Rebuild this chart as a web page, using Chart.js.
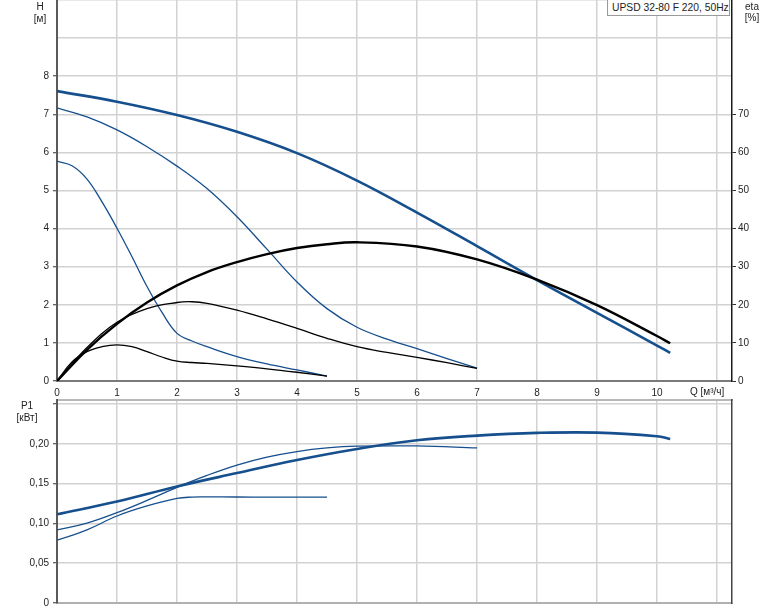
<!DOCTYPE html>
<html>
<head>
<meta charset="utf-8">
<script src="https://cdn.jsdelivr.net/npm/chart.js@4.4.1/dist/chart.umd.min.js"></script>
<style>
  html, body { margin: 0; padding: 0; background: #fff; }
  #wrap { position: relative; width: 774px; height: 611px; overflow: hidden; background: #fff;
          font-family: 'Liberation Sans', Arial, sans-serif; font-size: 10px; color: #222; }
  canvas { position: absolute; left: 0; }
  .lbl { position: absolute; line-height: 12px; white-space: nowrap; text-align: center; }
  #legend { position: absolute; left: 607px; top: -1px; width: 123px; height: 17px; box-sizing: border-box;
            border: 1px solid #9a9a9a; background: #fff; line-height: 16px; padding-left: 4px; white-space: nowrap;
            font-size: 10.3px; }
</style>
</head>
<body>
<div id="wrap">
  <canvas id="top" width="774" height="400" style="top:0"></canvas>
  <canvas id="bot" width="774" height="221" style="top:390px"></canvas>
  <div class="lbl" style="left:25px;top:1px;width:30px">H</div>
  <div class="lbl" style="left:25px;top:13px;width:30px">[м]</div>
  <div class="lbl" style="left:737px;top:1px;width:30px">eta</div>
  <div class="lbl" style="left:737px;top:12px;width:30px">[%]</div>
  <div class="lbl" style="left:12px;top:400px;width:30px">P1</div>
  <div class="lbl" style="left:7px;top:412px;width:40px">[кВт]</div>
  <div class="lbl" style="left:690px;top:386px;text-align:left">Q [м³/ч]</div>
  <div id="legend">UPSD 32-80 F 220, 50Hz</div>
</div>
<script>
// ---------- data ----------
// Q-H, maximum speed
const qMax = [0, 1, 2, 3, 4, 5, 6, 7, 8, 9, 10, 10.22];
const hMax = [7.61, 7.33, 6.98, 6.54, 5.98, 5.26, 4.42, 3.54, 2.65, 1.79, 0.93, 0.74];
// efficiency, maximum speed
const qEtaMax = [0, 0.5, 1, 1.5, 2, 2.5, 3, 3.5, 4, 4.5, 5, 6, 7, 8, 9, 10, 10.22];
const etaMax  = [0, 8.2, 15.0, 20.6, 25.1, 28.6, 31.2, 33.3, 34.9, 35.9, 36.4, 35.3, 31.9, 26.6, 19.9, 11.8, 9.9];
// Q-H, middle curve
const qMid = [0, 0.5, 1, 1.5, 2, 2.5, 3, 3.5, 4, 4.5, 5, 5.5, 6, 6.5, 7];
const hMid = [7.17, 6.93, 6.59, 6.15, 5.64, 5.05, 4.31, 3.46, 2.6, 1.9, 1.41, 1.1, 0.85, 0.59, 0.34];
// efficiency, middle curve
const qEtaMid = [0, 0.5, 1, 1.5, 2, 2.25, 2.5, 3, 3.5, 4, 4.5, 5, 5.5, 6, 6.5, 7];
const etaMid  = [0, 8.8, 15.4, 19.0, 20.6, 20.8, 20.4, 18.6, 16.3, 13.8, 11.2, 9.0, 7.5, 6.2, 4.8, 3.3];
// Q-H, lowest curve
const qLow = [0, 0.25, 0.5, 0.75, 1, 1.25, 1.5, 1.75, 2, 2.25, 2.5, 3, 3.5, 4, 4.5];
const hLow = [5.77, 5.65, 5.3, 4.7, 4.01, 3.26, 2.48, 1.8, 1.25, 1.05, 0.9, 0.64, 0.45, 0.29, 0.13];
// efficiency, lowest curve
const qEtaLow = [0, 0.25, 0.5, 0.75, 1, 1.25, 1.5, 1.75, 2, 2.25, 2.5, 3, 3.5, 4, 4.5];
const etaLow  = [0, 5.0, 7.7, 9.0, 9.5, 9.0, 7.7, 6.3, 5.2, 4.85, 4.6, 3.95, 3.2, 2.3, 1.3];
// power P1
const qPMax = [0, 1, 2, 3, 4, 5, 6, 7, 8, 9, 10, 10.22];
const pMax  = [0.1115, 0.1277, 0.1466, 0.1634, 0.1798, 0.1937, 0.2046, 0.2105, 0.2139, 0.2143, 0.2097, 0.2063];
const qPMid = [0, 0.5, 1, 1.5, 2, 2.5, 3, 3.5, 4, 4.5, 5, 6, 7];
const pMid  = [0.092, 0.1005, 0.1136, 0.129, 0.1455, 0.1605, 0.1735, 0.1835, 0.1905, 0.195, 0.1972, 0.1975, 0.195];
const qPLow = [0, 0.5, 1, 1.5, 2, 2.25, 2.5, 3, 3.5, 4, 4.5];
const pLow  = [0.079, 0.092, 0.1094, 0.122, 0.1315, 0.1332, 0.1334, 0.1333, 0.1332, 0.1332, 0.1332];
// axis ticks
const qTickLabels = [0, 1, 2, 3, 4, 5, 6, 7, 8, 9, 10];
const hTickLabels = [0, 1, 2, 3, 4, 5, 6, 7, 8];
const etaTickLabels = [0, 10, 20, 30, 40, 50, 60, 70];
const pTickLabels = [0, 0.05, 0.10, 0.15, 0.20];

// ---------- helpers ----------
const pts = (xs, ys) => xs.map((x, i) => ({ x: x, y: ys[i] }));
const BLUE = '#164f8d';
const BLACK = '#000000';
const GRID = '#d2d2d2';
const TXT = '#1e1e1e';
Chart.defaults.font.family = "'Liberation Sans', Arial, sans-serif";
Chart.defaults.font.size = 10;
Chart.defaults.color = TXT;

const line = (data, color, width, axis) => ({
  data: data, borderColor: color, borderWidth: width, pointRadius: 0, pointHoverRadius: 0,
  fill: false, tension: 0.4, yAxisID: axis, borderCapStyle: 'butt'
});
const noPad = s => { s.paddingTop = 0; s.paddingBottom = 0; s.paddingLeft = 0; s.paddingRight = 0; };

const xScale = (showLabels, h) => ({
  type: 'linear', position: 'bottom', min: 0, max: 11.25,
  ticks: { display: showLabels, stepSize: 1, includeBounds: false, autoSkip: false, maxRotation: 0, padding: 6,
           callback: v => qTickLabels.includes(v) ? String(v) : '' },
  grid: { color: GRID, lineWidth: 1.5, drawTicks: false },
  border: { color: showLabels ? '#7a7a7a' : '#b0b0b0', width: 2 },
  afterFit: s => { s.height = h; noPad(s); }
});

// ---------- top chart ----------
new Chart(document.getElementById('top'), {
  type: 'line',
  data: { datasets: [
    line(pts(qEtaLow, etaLow), BLACK, 1.3, 'y2'),
    line(pts(qEtaMid, etaMid), BLACK, 1.3, 'y2'),
    line(pts(qEtaMax, etaMax), BLACK, 2.4, 'y2'),
    line(pts(qLow, hLow), BLUE, 1.3, 'y'),
    line(pts(qMid, hMid), BLUE, 1.3, 'y'),
    line(pts(qMax, hMax), BLUE, 2.6, 'y')
  ]},
  options: {
    responsive: false, animation: false, devicePixelRatio: 1,
    layout: { padding: 0 },
    plugins: { legend: { display: false }, tooltip: { enabled: false } },
    scales: {
      x: xScale(true, 19),
      y: { position: 'left', min: 0, max: 10,
           ticks: { stepSize: 1, includeBounds: false, padding: 4, autoSkip: false,
                    callback: v => hTickLabels.includes(v) ? String(v) : '' },
           grid: { color: GRID, lineWidth: 1.5, tickLength: 4,
                   tickColor: c => (c.tick && hTickLabels.includes(c.tick.value)) ? '#333' : 'rgba(0,0,0,0)', tickWidth: 1 },
           border: { color: '#5a5a5a', width: 2 },
           afterFit: s => { s.width = 57; noPad(s); } },
      y2: { position: 'right', min: 0, max: 100,
           ticks: { stepSize: 10, includeBounds: false, padding: 2, autoSkip: false,
                    callback: v => etaTickLabels.includes(v) ? String(v) : '' },
           grid: { drawOnChartArea: false, tickLength: 4,
                   tickColor: c => (c.tick && etaTickLabels.includes(c.tick.value)) ? '#333' : 'rgba(0,0,0,0)', tickWidth: 1 },
           border: { color: '#1a1a1a', width: 1.5 },
           afterFit: s => { s.width = 42; noPad(s); } }
    }
  }
});

// ---------- bottom chart ----------
const fmtP = v => v === 0 ? '0' : v.toFixed(2).replace('.', ',');
new Chart(document.getElementById('bot'), {
  type: 'line',
  data: { datasets: [
    line(pts(qPLow, pLow), BLUE, 1.3, 'y'),
    line(pts(qPMid, pMid), BLUE, 1.3, 'y'),
    line(pts(qPMax, pMax), BLUE, 2.6, 'y')
  ]},
  options: {
    responsive: false, animation: false, devicePixelRatio: 1,
    layout: { padding: 0 },
    plugins: { legend: { display: false }, tooltip: { enabled: false } },
    scales: {
      x: xScale(false, 8),
      xt: { type: 'linear', position: 'top', min: 0, max: 11.25,
            ticks: { display: false }, grid: { display: false, drawTicks: false },
            border: { color: '#b8b8b8', width: 2 },
            afterFit: s => { s.height = 10; noPad(s); } },
      y: { position: 'left', min: 0, max: 0.2553,
           ticks: { stepSize: 0.05, includeBounds: false, padding: 4, autoSkip: false,
                    callback: v => pTickLabels.some(t => Math.abs(t - v) < 1e-6) ? fmtP(v) : '' },
           grid: { color: GRID, lineWidth: 1.5, tickLength: 4, tickColor: '#333', tickWidth: 1 },
           border: { color: '#5a5a5a', width: 2 },
           afterFit: s => { s.width = 57; noPad(s); } },
      yr: { position: 'right', min: 0, max: 1,
            ticks: { display: false }, grid: { display: false, drawTicks: false },
            border: { color: '#444', width: 1.5 },
            afterFit: s => { s.width = 42; noPad(s); } }
    }
  }
});
</script>
</body>
</html>
